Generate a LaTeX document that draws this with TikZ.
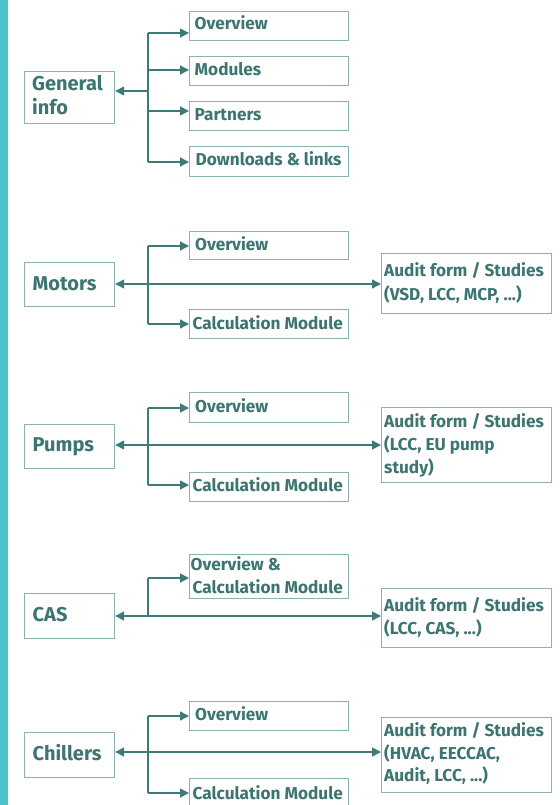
\documentclass[tikz,border=0pt]{standalone}
\usepackage{fontspec}
\setmainfont{Fira Sans}
\usetikzlibrary{arrows.meta}
\definecolor{bar}{RGB}{72,196,201}
\definecolor{ink}{RGB}{60,117,114}
\definecolor{edge}{RGB}{138,179,176}
\definecolor{wirec}{RGB}{61,123,120}
\tikzset{
  box/.style={draw=edge, line width=1.2pt, inner sep=0pt, anchor=north west, fill=white},
  lbl/.style={text=ink, font=\fontsize{17.2}{23}\selectfont\bfseries, inner sep=0pt, anchor=base west},
  big/.style={text=ink, font=\fontsize{20}{24}\selectfont\bfseries, inner sep=0pt, anchor=base west},
  wire/.style={draw=wirec, line width=1.3pt},
  tip/.style={-{Triangle[length=9pt,width=9pt]}},
  tips/.style={{Triangle[length=9pt,width=9pt]}-{Triangle[length=9pt,width=9pt]}},
}
\begin{document}
\begin{tikzpicture}[x=1pt,y=-1pt]
\useasboundingbox (0,0) rectangle (559,805);
\fill[bar] (0,0) rectangle (8,805);

% ---------- General info ----------
\node[box, minimum width=90pt, minimum height=52pt] (gi) at (24,71) {};
\node[box, minimum width=159pt, minimum height=29pt] (g1) at (189,11) {};
\node[box, minimum width=159pt, minimum height=29pt] (g2) at (189,56) {};
\node[box, minimum width=159pt, minimum height=29pt] (g3) at (189,101) {};
\node[box, minimum width=159pt, minimum height=30pt] (g4) at (189,146) {};
\node[big] (git1) at (32,90.7) {General};
\node[big] (git2) at (32,115) {info};
\node[lbl] (g1t) at (194.5,30) {Overview};
\node[lbl] (g2t) at (194.5,76) {Modules};
\node[lbl] (g3t) at (194.5,121) {Partners};
\node[lbl] (g4t) at (195.5,166) {Downloads \& links};
\coordinate (gm) at (148,91);
\coordinate (ga) at (148,33);
\coordinate (gb) at (148,70);
\coordinate (gc) at (148,111);
\coordinate (gd) at (148,162);
\draw[wire] (ga) -- (gd);
\draw[wire, tip] (gm) -- (gm -| gi.east);
\draw[wire, tip] (ga) -- (ga -| g1.west);
\draw[wire, tip] (gb) -- (gb -| g2.west);
\draw[wire, tip] (gc) -- (gc -| g3.west);
\draw[wire, tip] (gd) -- (gd -| g4.west);

% ---------- Motors ----------
\node[box, minimum width=90pt, minimum height=44pt] (mo) at (24,262) {};
\node[box, minimum width=159pt, minimum height=28pt] (m1) at (189,231) {};
\node[box, minimum width=159pt, minimum height=29pt] (m2) at (189,309) {};
\node[box, minimum width=170pt, minimum height=60pt] (ma) at (381,253) {};
\node[big] (mot) at (32.5,290) {Motors};
\node[lbl] (m1t) at (195,250.7) {Overview};
\node[lbl] (m2t) at (192.5,329.3) {Calculation Module};
\node[lbl] (mat1) at (384,276.7) {Audit form / Studies};
\node[lbl] (mat2) at (384,300) {(VSD, LCC, MCP, ...)};
\coordinate (mm) at (148,284);
\coordinate (ma1) at (148,246);
\coordinate (ma2) at (148,324);
\draw[wire] (ma1) -- (ma2);
\draw[wire, tips] (mm -| mo.east) -- (mm -| ma.west);
\draw[wire, tip] (ma1) -- (ma1 -| m1.west);
\draw[wire, tip] (ma2) -- (ma2 -| m2.west);

% ---------- Pumps ----------
\node[box, minimum width=90pt, minimum height=44pt] (pu) at (24,424) {};
\node[box, minimum width=159pt, minimum height=30pt] (p1) at (189,392) {};
\node[box, minimum width=159pt, minimum height=29pt] (p2) at (189,472) {};
\node[box, minimum width=170pt, minimum height=75pt] (pa) at (381,407) {};
\node[big] (put) at (32.5,451.7) {Pumps};
\node[lbl] (p1t) at (195,412.7) {Overview};
\node[lbl] (p2t) at (192.5,491.7) {Calculation Module};
\node[lbl] (pat1) at (384,427.7) {Audit form / Studies};
\node[lbl] (pat2) at (384,450.7) {(LCC, EU pump};
\node[lbl] (pat3) at (384,473.3) {study)};
\coordinate (pm) at (148,445);
\coordinate (pa1) at (148,408);
\coordinate (pa2) at (148,485);
\draw[wire] (pa1) -- (pa2);
\draw[wire, tips] (pm -| pu.east) -- (pm -| pa.west);
\draw[wire, tip] (pa1) -- (pa1 -| p1.west);
\draw[wire, tip] (pa2) -- (pa2 -| p2.west);

% ---------- CAS ----------
\node[box, minimum width=90pt, minimum height=45pt] (ca) at (24,593) {};
\node[box, minimum width=159pt, minimum height=44pt] (c1) at (189,554) {};
\node[box, minimum width=170pt, minimum height=59pt] (cz) at (381,588) {};
\node[big] (cat) at (32.5,621.7) {CAS};
\node[lbl] (c1t1) at (190.5,570.7) {Overview \&};
\node[lbl] (c1t2) at (192.5,593.7) {Calculation Module};
\node[lbl] (czt1) at (384,611) {Audit form / Studies};
\node[lbl] (czt2) at (384,634.3) {(LCC, CAS, ...)};
\coordinate (cm) at (148,616);
\coordinate (ca1) at (148,578);
\draw[wire] (ca1) -- (cm);
\draw[wire, tips] (cm -| ca.east) -- (cm -| cz.west);
\draw[wire, tip] (ca1) -- (ca1 -| c1.west);

% ---------- Chillers ----------
\node[box, minimum width=90pt, minimum height=45pt] (ch) at (24,732) {};
\node[box, minimum width=159pt, minimum height=29pt] (h1) at (189,701) {};
\node[box, minimum width=159pt, minimum height=32pt] (h2) at (189,778) {};
\node[box, minimum width=170pt, minimum height=75pt] (ha) at (381,717) {};
\node[big] (cht) at (32.5,760) {Chillers};
\node[lbl] (h1t) at (195,720.7) {Overview};
\node[lbl] (h2t) at (192.5,799) {Calculation Module};
\node[lbl] (hat1) at (384,736.7) {Audit form / Studies};
\node[lbl] (hat2) at (384,759.3) {(HVAC, EECCAC,};
\node[lbl] (hat3) at (384,781.7) {Audit, LCC, ...)};
\coordinate (hm) at (148,752);
\coordinate (ha1) at (148,716);
\coordinate (ha2) at (148,793);
\draw[wire] (ha1) -- (ha2);
\draw[wire, tips] (hm -| ch.east) -- (hm -| ha.west);
\draw[wire, tip] (ha1) -- (ha1 -| h1.west);
\draw[wire, tip] (ha2) -- (ha2 -| h2.west);
\end{tikzpicture}
\end{document}
